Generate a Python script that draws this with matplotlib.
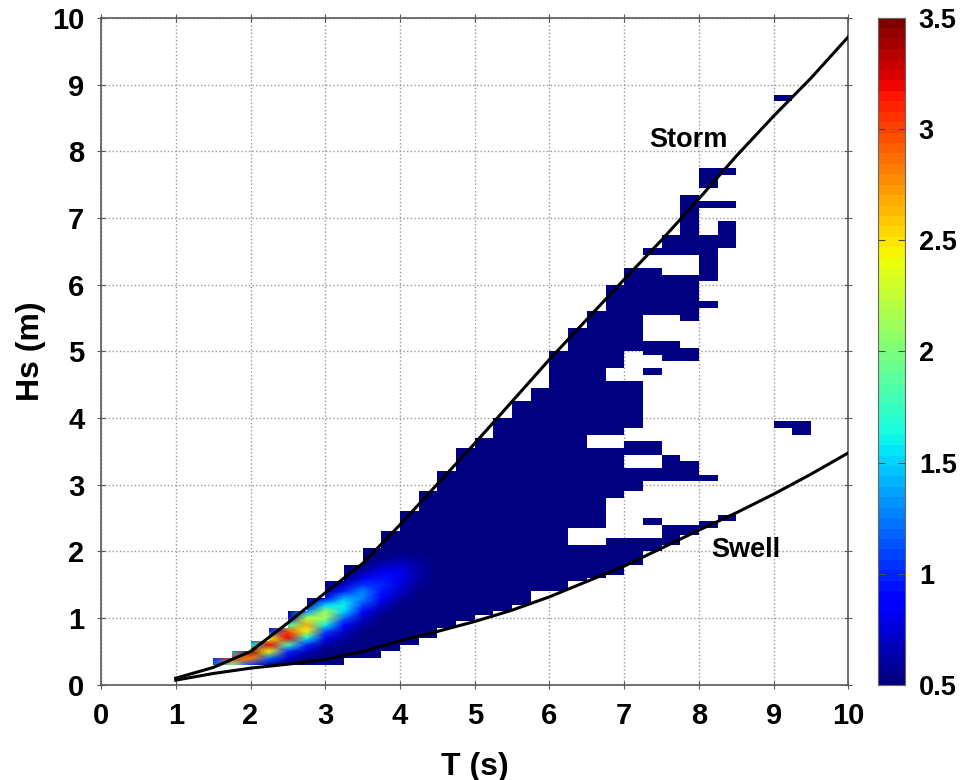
import numpy as np
import matplotlib
matplotlib.use("Agg")
import matplotlib.pyplot as plt
from matplotlib.path import Path
from matplotlib.colors import Normalize
from matplotlib.cm import ScalarMappable

plt.rcParams['font.family'] = ['Liberation Sans', 'DejaVu Sans']
plt.rcParams['font.weight'] = 'bold'

# limit curves
curve_T = [1.0, 1.5, 2.0, 2.5, 3.0, 3.5, 4.0, 4.5, 5.0, 5.5,
           6.0, 6.5, 7.0, 7.5, 8.0, 8.5, 9.0, 9.5, 10.0]
storm_Hs = [0.10, 0.26, 0.50, 0.93, 1.38, 1.82, 2.40, 3.01, 3.62, 4.25,
            4.88, 5.48, 6.08, 6.67, 7.29, 7.93, 8.53, 9.10, 9.72]
swell_Hs = [0.07, 0.17, 0.25, 0.31, 0.38, 0.50, 0.66, 0.80, 0.95, 1.12,
            1.32, 1.55, 1.78, 2.05, 2.32, 2.58, 2.86, 3.16, 3.48]

# period bins (left edge, 0.25 s wide) and the Hs spans that hold data
col_T = [1.5, 1.75, 2.0, 2.25, 2.5, 2.75, 3.0, 3.25, 3.5, 3.75,
         4.0, 4.25, 4.5, 4.75, 5.0, 5.25, 5.5, 5.75, 6.0, 6.25,
         6.5, 6.75, 7.0, 7.25, 7.5, 7.75, 8.0, 8.25, 8.5, 8.75,
         9.0, 9.25]
col_Hs = [
    [(0.30, 0.40)],
    [(0.30, 0.50)],
    [(0.30, 0.65)],
    [(0.30, 0.85)],
    [(0.30, 1.10)],
    [(0.30, 1.30)],
    [(0.30, 1.55)],
    [(0.40, 1.80)],
    [(0.40, 2.05)],
    [(0.50, 2.30)],
    [(0.60, 2.60)],
    [(0.70, 2.90)],
    [(0.85, 3.20)],
    [(0.95, 3.55)],
    [(1.05, 3.70)],
    [(1.10, 4.00)],
    [(1.20, 4.25)],
    [(1.40, 4.45)],
    [(1.40, 5.00)],
    [(1.55, 2.10), (2.35, 5.35)],
    [(1.60, 2.10), (2.35, 3.55), (3.75, 5.60)],
    [(1.65, 2.20), (2.80, 3.55), (3.75, 4.55), (4.75, 6.00)],
    [(1.80, 2.20), (2.90, 3.25), (3.45, 3.65), (3.85, 4.55), (5.00, 6.25)],
    [(2.00, 2.20), (2.40, 2.50), (3.05, 3.25), (3.45, 3.65), (4.65, 4.75),
     (4.95, 5.15), (5.55, 6.25), (6.45, 6.55)],
    [(2.10, 2.40), (3.05, 3.45), (4.85, 5.15), (5.55, 6.15), (6.45, 6.75)],
    [(2.25, 2.40), (3.05, 3.35), (4.85, 5.05), (5.45, 6.15), (6.45, 7.35)],
    [(2.35, 2.45), (3.05, 3.15), (5.65, 5.75), (6.05, 6.75), (7.15, 7.25),
     (7.45, 7.75)],
    [(2.45, 2.55), (6.55, 6.95), (7.15, 7.25), (7.65, 7.75)],
    [],
    [],
    [(3.85, 3.95), (8.75, 8.85)],
    [(3.75, 3.95)],
]

# density of the high-occurrence core (rows = Hs, cols = T)
hot_T = [1.5, 1.75, 2.0, 2.25, 2.5, 2.75, 3.0, 3.25, 3.5, 3.75, 4.0, 4.25, 4.5]
hot_Hs = [0.2, 0.3, 0.4, 0.5, 0.6, 0.7, 0.8, 0.9, 1.0, 1.1, 1.2,
          1.3, 1.4, 1.5, 1.6, 1.7, 1.8, 1.9, 2.0, 2.1, 2.2, 2.3]
hot_val = [
    [0.4, 0.4, 0.4, 0.4, 0.4, 0.4, 0.4, 0.4, 0.4, 0.4, 0.4, 0.4, 0.4],
    [1.2, 2.0, 1.1, 0.6, 0.4, 0.4, 0.4, 0.4, 0.4, 0.4, 0.4, 0.4, 0.4],
    [1.0, 3.0, 2.8, 1.2, 0.7, 0.5, 0.4, 0.4, 0.4, 0.4, 0.4, 0.4, 0.4],
    [0.5, 1.4, 3.4, 2.4, 1.0, 0.7, 0.5, 0.4, 0.4, 0.4, 0.4, 0.4, 0.4],
    [0.4, 0.5, 1.6, 3.2, 1.8, 1.0, 0.6, 0.4, 0.4, 0.4, 0.4, 0.4, 0.4],
    [0.4, 0.4, 0.7, 2.4, 3.2, 1.6, 0.8, 0.6, 0.4, 0.4, 0.4, 0.4, 0.4],
    [0.4, 0.4, 0.4, 1.0, 3.0, 2.4, 1.1, 0.7, 0.5, 0.4, 0.4, 0.4, 0.4],
    [0.4, 0.4, 0.4, 0.5, 1.8, 2.7, 1.6, 0.9, 0.6, 0.4, 0.4, 0.4, 0.4],
    [0.4, 0.4, 0.4, 0.4, 0.8, 2.2, 2.1, 1.2, 0.7, 0.5, 0.4, 0.4, 0.4],
    [0.4, 0.4, 0.4, 0.4, 0.5, 1.3, 2.1, 1.5, 0.9, 0.6, 0.4, 0.4, 0.4],
    [0.4, 0.4, 0.4, 0.4, 0.4, 0.7, 1.5, 1.6, 1.1, 0.7, 0.5, 0.4, 0.4],
    [0.4, 0.4, 0.4, 0.4, 0.4, 0.5, 0.9, 1.4, 1.25, 0.85, 0.6, 0.45, 0.4],
    [0.4, 0.4, 0.4, 0.4, 0.4, 0.4, 0.6, 1.0, 1.25, 0.95, 0.7, 0.5, 0.4],
    [0.4, 0.4, 0.4, 0.4, 0.4, 0.4, 0.5, 0.7, 1.05, 1.0, 0.75, 0.55, 0.45],
    [0.4, 0.4, 0.4, 0.4, 0.4, 0.4, 0.4, 0.5, 0.8, 0.95, 0.8, 0.6, 0.45],
    [0.4, 0.4, 0.4, 0.4, 0.4, 0.4, 0.4, 0.4, 0.6, 0.8, 0.8, 0.6, 0.5],
    [0.4, 0.4, 0.4, 0.4, 0.4, 0.4, 0.4, 0.4, 0.45, 0.65, 0.7, 0.6, 0.5],
    [0.4, 0.4, 0.4, 0.4, 0.4, 0.4, 0.4, 0.4, 0.4, 0.5, 0.6, 0.55, 0.5],
    [0.4, 0.4, 0.4, 0.4, 0.4, 0.4, 0.4, 0.4, 0.4, 0.4, 0.5, 0.5, 0.45],
    [0.4, 0.4, 0.4, 0.4, 0.4, 0.4, 0.4, 0.4, 0.4, 0.4, 0.4, 0.4, 0.4],
    [0.4, 0.4, 0.4, 0.4, 0.4, 0.4, 0.4, 0.4, 0.4, 0.4, 0.4, 0.4, 0.4],
    [0.4, 0.4, 0.4, 0.4, 0.4, 0.4, 0.4, 0.4, 0.4, 0.4, 0.4, 0.4, 0.4],
]

cbar_ticks = [0.5, 1, 1.5, 2, 2.5, 3, 3.5]
cbar_labels = ['0.5', '1', '1.5', '2', '2.5', '3', '3.5']

fig = plt.figure(figsize=(9.62, 7.8), dpi=100)
ax = fig.add_axes([0.105, 0.122, 0.777, 0.855])
cax = fig.add_axes([0.9127, 0.122, 0.028, 0.855])

cmap = plt.get_cmap('jet', 64)
norm = Normalize(0.5, 3.5)

# occupied bins, flat dark blue
T_edges = np.array(col_T + [col_T[-1] + 0.25])
H_edges = np.round(np.arange(0, 9.0001, 0.05), 3)
H_mid = 0.5 * (H_edges[:-1] + H_edges[1:])
occ = np.full((len(H_mid), len(col_T)), np.nan)
for j, spans in enumerate(col_Hs):
    for lo, hi in spans:
        occ[(H_mid > lo) & (H_mid < hi), j] = 0.5
ax.pcolormesh(T_edges, H_edges, np.ma.masked_invalid(occ), cmap=cmap,
              norm=norm, shading='flat', zorder=1)

# smooth core, clipped to the stepped outline of the first columns
hot = ax.pcolormesh(hot_T, hot_Hs, np.array(hot_val), cmap=cmap, norm=norm,
                    shading='gouraud', zorder=2)
n = len(hot_T) - 1
verts = []
for j in range(n):
    lo, hi = col_Hs[j][0]
    verts += [(col_T[j], hi), (col_T[j] + 0.25, hi)]
for j in reversed(range(n)):
    lo, hi = col_Hs[j][0]
    verts += [(col_T[j] + 0.25, lo), (col_T[j], lo)]
hot.set_clip_path(Path(verts + [verts[0]], closed=True), ax.transData)

ax.plot(curve_T, storm_Hs, color='k', lw=2.2, zorder=3)
ax.plot(curve_T, swell_Hs, color='k', lw=2.2, zorder=3)
ax.text(7.86, 8.17, 'Storm', ha='center', va='center', fontsize=19.5,
        fontweight='bold', zorder=4)
ax.text(8.62, 2.02, 'Swell', ha='center', va='center', fontsize=19.5,
        fontweight='bold', zorder=4)

ax.set_xlim(0, 10)
ax.set_ylim(0, 10)
ax.set_xticks(range(11))
ax.set_yticks(range(11))
ax.grid(True, linestyle=':', color='0.6', lw=1)
ax.set_axisbelow(True)
ax.tick_params(direction='inout', length=6, color='0.35', labelsize=21,
               top=True, right=True, pad=9)
for s in ax.spines.values():
    s.set_color('0.35')
    s.set_linewidth(1.2)
ax.set_xlabel('T (s)', fontsize=23, fontweight='bold', labelpad=16)
ax.set_ylabel('Hs (m)', fontsize=23, fontweight='bold', labelpad=4)

cb = fig.colorbar(ScalarMappable(norm=norm, cmap=cmap), cax=cax, ticks=cbar_ticks)
cb.ax.set_yticklabels(cbar_labels)
cb.outline.set_edgecolor('0.4')
cax.tick_params(direction='in', length=5, left=True, right=True,
                labelsize=19.5, color='0.3', pad=10)

fig.savefig('out.png', dpi=100)
